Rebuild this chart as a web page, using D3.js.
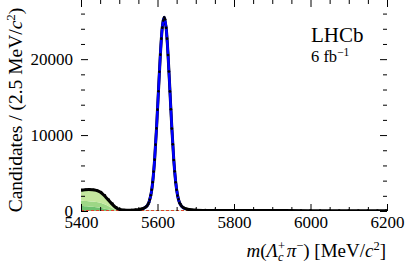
<!DOCTYPE html>
<meta charset="utf-8">
<script src="https://d3js.org/d3.v7.min.js"></script>
<style>
  body { margin: 0; background: #fff; }
  text { font-family: "Liberation Serif", "Times New Roman", serif; fill: #000; }
</style>
<div id="my_dataviz"></div>
<script>

// signal fit (blue), knots
var sigMass = [5520, 5540, 5552.5, 5557.5, 5562.5, 5567.5, 5572.5, 5577.5, 5582.5, 5587.5, 5592.5, 5597.5,
  5602.5, 5607.5, 5612.5, 5617.5, 5622.5, 5627.5, 5632.5, 5637.5, 5642.5, 5647.5, 5652.5, 5657.5,
  5662.5, 5667.5, 5672.5, 5682.5, 5700, 5750, 5800, 6200];
var sigVal = [15, 45, 100, 150, 220, 340, 560, 1000, 1950, 3720, 6680, 10810,
  15710, 20520, 24080, 25400, 24080, 20520, 15710, 10810, 6680, 3720, 1950, 1000,
  560, 340, 220, 110, 45, 10, 5, 0];

// background components (green stack + combinatorial)
var bkgMass = [5400, 5410, 5420, 5430, 5440, 5450, 5460, 5470, 5480, 5490, 5500, 5510, 5520,
  5540, 5560, 5580, 5600, 5620, 5640, 5660, 5680, 5700, 5800, 6000, 6200];
var darkGreen  = [650, 630, 600, 560, 500, 430, 340, 220, 100, 40, 20, 20, 30, 40, 50, 60, 60, 60, 50, 40, 20, 10, 0, 0, 0];
var midGreen   = [700, 700, 700, 690, 680, 650, 580, 480, 320, 130, 20, 0, 0, 0, 0, 0, 0, 0, 0, 0, 0, 0, 0, 0, 0];
var lightGreen = [1330, 1400, 1450, 1480, 1460, 1340, 1080, 750, 480, 250, 90, 30, 0, 0, 0, 0, 0, 0, 0, 0, 0, 0, 0, 0, 0];
var combBkg    = [60, 60, 60, 60, 60, 60, 60, 60, 60, 60, 60, 60, 60, 60, 60, 60, 58, 58, 58, 57, 57, 56, 52, 46, 40];

// data, 2.5 MeV bins across the peak (5552.5 ... 5682.5)
var peakData = [205, 240, 265, 300, 325, 400, 445, 555, 660, 870, 1120, 1490, 2080, 2790, 3800, 5190, 6760,
  8740, 10880, 13350, 15780, 18350, 20590, 22700, 24150, 25100, 25480, 25250, 24120, 22700, 20550,
  18380, 15750, 13400, 10850, 8780, 6720, 5220, 3790, 2800, 2030, 1540, 1090, 880, 650, 555, 440,
  395, 320, 300, 255, 245, 215];
// data in the sidebands (sparser, mostly hidden by the fit line)
var lowMass = [5402.5, 5412.5, 5422.5, 5432.5, 5442.5, 5452.5, 5462.5, 5472.5, 5482.5, 5492.5, 5502.5, 5512.5, 5522.5, 5532.5, 5542.5];
var lowData = [2730, 2790, 2820, 2800, 2700, 2480, 2060, 1520, 970, 500, 200, 120, 105, 125, 150];
var highMass = [5700, 5725, 5750, 5775, 5800, 5825, 5850, 5875, 5900, 5925, 5950, 5975, 6000, 6025, 6050, 6075, 6100, 6125, 6150, 6175, 6197.5];
var highData = [150, 120, 110, 100, 95, 100, 90, 85, 90, 80, 85, 75, 80, 70, 75, 70, 65, 70, 60, 65, 60];

var xMajor = [5400, 5600, 5800, 6000, 6200];
var yMajor = [0, 10000, 20000];

var width = 407, height = 265;
var margin = {top: 6, right: 20, bottom: 54, left: 81};

var svg = d3.select("#my_dataviz")
  .append("svg")
    .attr("width", width)
    .attr("height", height);

var x = d3.scaleLinear().domain([5400, 6200]).range([margin.left, width - margin.right]);
var y = d3.scaleLinear().domain([0, 27000]).range([height - margin.bottom, margin.top]);

// piecewise linear lookup
function lerp(xs, vs, m) {
  if (m <= xs[0]) return vs[0];
  if (m >= xs[xs.length - 1]) return vs[vs.length - 1];
  var i = d3.bisectRight(xs, m);
  var t = (m - xs[i - 1]) / (xs[i] - xs[i - 1]);
  return vs[i - 1] + t * (vs[i] - vs[i - 1]);
}

svg.append("clipPath").attr("id", "plotclip")
  .append("rect")
    .attr("x", margin.left).attr("y", margin.top)
    .attr("width", x.range()[1] - margin.left)
    .attr("height", y.range()[0] - margin.top);

var plot = svg.append("g").attr("clip-path", "url(#plotclip)");

// stacked green components
var table = bkgMass.map(function(m, i) {
  return {m: m, dark: darkGreen[i], mid: midGreen[i], light: lightGreen[i]};
});
var stack = d3.stack().keys(["dark", "mid", "light"])(table);
var greens = {dark: "#6dc26f", mid: "#9dd786", light: "#c4e79e"};

var area = d3.area()
  .curve(d3.curveMonotoneX)
  .x(function(d) { return x(d.data.m); })
  .y0(function(d) { return y(d[0]); })
  .y1(function(d) { return y(d[1]); });

plot.selectAll(".layer")
  .data(stack)
  .enter()
  .append("path")
    .attr("d", area)
    .style("fill", function(d) { return greens[d.key]; })
    .style("stroke", "none");

// combinatorial
plot.append("path")
  .datum(bkgMass.map(function(m, i) { return [m, combBkg[i]]; }))
  .attr("d", d3.line().x(function(d) { return x(d[0]); }).y(function(d) { return y(d[1]); }))
  .style("fill", "none")
  .style("stroke", "#e0402a")
  .style("stroke-width", 1.3)
  .style("stroke-dasharray", "3,2");

// total fit
var allMass = Array.from(new Set(sigMass.concat(bkgMass))).sort(d3.ascending);
var total = allMass.map(function(m) {
  return [m, lerp(sigMass, sigVal, m) + lerp(bkgMass, darkGreen, m) + lerp(bkgMass, midGreen, m)
    + lerp(bkgMass, lightGreen, m) + lerp(bkgMass, combBkg, m)];
});
var line = d3.line().curve(d3.curveMonotoneX)
  .x(function(d) { return x(d[0]); })
  .y(function(d) { return y(d[1]); });

plot.append("path")
  .datum(total)
  .attr("d", line)
  .style("fill", "none")
  .style("stroke", "#000")
  .style("stroke-width", 3);

// signal (only drawn where it stands off the baseline)
var sigPts = sigMass.map(function(m, i) {
  return [m, sigVal[i] + lerp(bkgMass, darkGreen, m) + lerp(bkgMass, combBkg, m)];
}).filter(function(d, i) { return sigVal[i] >= 200; });

plot.append("path")
  .datum(sigPts)
  .attr("d", line)
  .style("fill", "none")
  .style("stroke", "#0000ff")
  .style("stroke-width", 2.6);

// data points
var peakMass = d3.range(5552.5, 5683, 2.5);
var data = [];
lowMass.forEach(function(m, i) { data.push([m, lowData[i]]); });
peakMass.forEach(function(m, i) { data.push([m, peakData[i]]); });
highMass.forEach(function(m, i) { data.push([m, highData[i]]); });

plot.selectAll(".err")
  .data(data)
  .enter()
  .append("line")
    .attr("x1", function(d) { return x(d[0]); })
    .attr("x2", function(d) { return x(d[0]); })
    .attr("y1", function(d) { return y(d[1] + Math.sqrt(d[1])); })
    .attr("y2", function(d) { return y(d[1] - Math.sqrt(d[1])); })
    .style("stroke", "#000")
    .style("stroke-width", 0.8);

plot.selectAll(".pt")
  .data(data)
  .enter()
  .append("circle")
    .attr("cx", function(d) { return x(d[0]); })
    .attr("cy", function(d) { return y(d[1]); })
    .attr("r", 1.3)
    .style("fill", "#000");

// axes, ticks inward on all four sides
var xMinor = d3.range(5400, 6201, 50).filter(function(v) { return xMajor.indexOf(v) < 0; });
var yMinor = d3.range(0, 27001, 2000).filter(function(v) { return yMajor.indexOf(v) < 0; });
var bot = y.range()[0], top = y.range()[1], lft = x.range()[0], rgt = x.range()[1];

function addAxis(axis, tx, ty, labels) {
  var g = svg.append("g")
    .attr("transform", "translate(" + tx + "," + ty + ")")
    .call(axis);
  g.select(".domain").remove();
  g.selectAll("line").style("stroke", "#000").style("stroke-width", 1);
  g.selectAll("text").style("font-family", "Liberation Serif").style("font-size", "17px");
  if (!labels) g.selectAll("text").remove();
  return g;
}

addAxis(d3.axisBottom(x).tickValues(xMajor).tickSize(-7).tickPadding(5).tickFormat(d3.format("d")), 0, bot, true);
addAxis(d3.axisBottom(x).tickValues(xMinor).tickSize(-4), 0, bot, false);
addAxis(d3.axisTop(x).tickValues(xMajor).tickSize(-7), 0, top, false);
addAxis(d3.axisTop(x).tickValues(xMinor).tickSize(-4), 0, top, false);
addAxis(d3.axisLeft(y).tickValues(yMajor).tickSize(-7).tickPadding(8).tickFormat(d3.format("d")), lft, 0, true);
addAxis(d3.axisLeft(y).tickValues(yMinor).tickSize(-4), lft, 0, false);
addAxis(d3.axisRight(y).tickValues(yMajor).tickSize(-7), rgt, 0, false);
addAxis(d3.axisRight(y).tickValues(yMinor).tickSize(-4), rgt, 0, false);

svg.append("rect")
  .attr("x", lft).attr("y", top)
  .attr("width", rgt - lft).attr("height", bot - top)
  .style("fill", "none")
  .style("stroke", "#000")
  .style("stroke-width", 1.4);

// y title
var yt = svg.append("text")
  .attr("transform", "translate(22," + 110 + ") rotate(-90)")
  .attr("text-anchor", "middle")
  .style("font-size", "19.5px");
yt.append("tspan").text("Candidates / (2.5 MeV/");
yt.append("tspan").style("font-style", "italic").text("c");
yt.append("tspan").attr("dy", -7).style("font-size", "13px").text("2");
yt.append("tspan").attr("dy", 7).text(")");

// x title
var xt = svg.append("text")
  .attr("x", 0).attr("y", 257)
  .style("font-size", "19px");
xt.append("tspan").style("font-style", "italic").text("m");
xt.append("tspan").text("(");
xt.append("tspan").style("font-style", "italic").text("Λ");
xt.append("tspan").attr("dy", -7).style("font-size", "12.5px").text("+");
xt.append("tspan").attr("dx", -7).attr("dy", 11).style("font-size", "12.5px").style("font-style", "italic").text("c");
xt.append("tspan").attr("dx", 3).attr("dy", -4).style("font-style", "italic").text("π");
xt.append("tspan").attr("dy", -7).style("font-size", "12.5px").text("−");
xt.append("tspan").attr("dy", 7).text(") [MeV/");
xt.append("tspan").style("font-style", "italic").text("c");
xt.append("tspan").attr("dy", -7).style("font-size", "12.5px").text("2");
xt.append("tspan").attr("dy", 7).text("]");
var bb = xt.node().getBBox();
xt.attr("x", 386 - bb.width);

// LHCb label
svg.append("text")
  .attr("x", 311).attr("y", 42)
  .style("font-size", "21px")
  .text("LHCb");
var lum = svg.append("text")
  .attr("x", 311).attr("y", 62)
  .style("font-size", "16.5px");
lum.append("tspan").text("6 fb");
lum.append("tspan").attr("dy", -6).style("font-size", "11.5px").text("−1");

</script>
